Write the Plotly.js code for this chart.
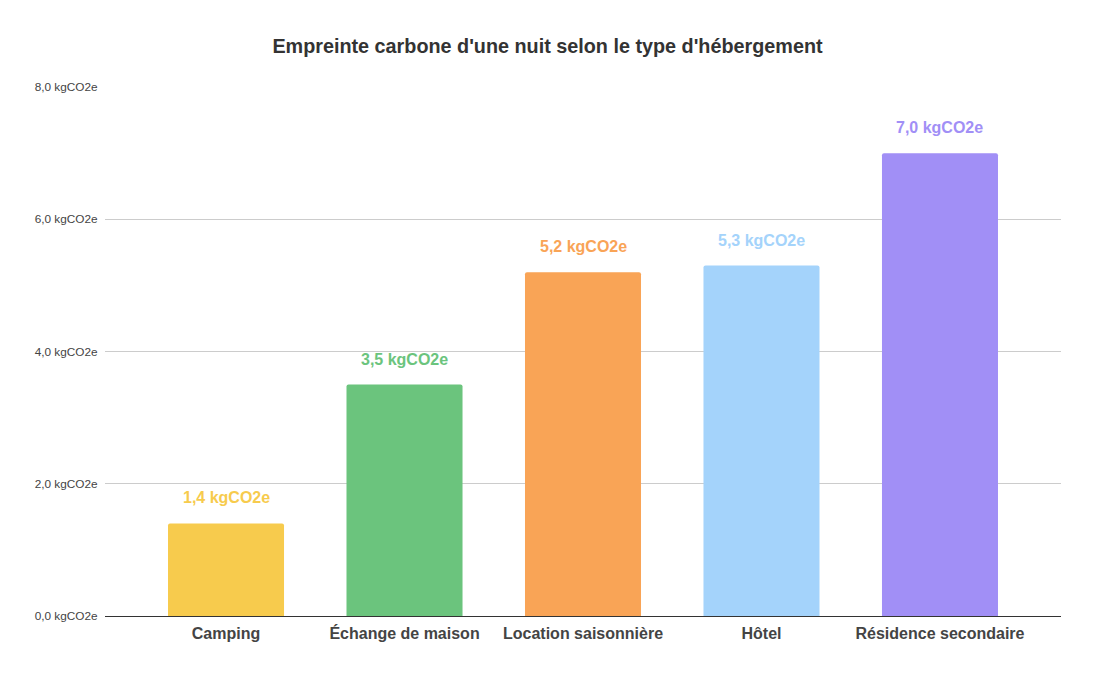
<!DOCTYPE html>
<html>
<head>
<meta charset="utf-8">
<script src="https://cdn.plot.ly/plotly-3.0.1.min.js"></script>
<style>html,body{margin:0;padding:0;background:#fff;}#chart{width:1095px;height:677px;}</style>
</head>
<body>
<div id="chart"></div>
<script>
const categories = ["Camping", "Échange de maison", "Location saisonnière", "Hôtel", "Résidence secondaire"];
const values = [1.4, 3.5, 5.2, 5.3, 7.0];
const valueLabels = ["1,4 kgCO2e", "3,5 kgCO2e", "5,2 kgCO2e", "5,3 kgCO2e", "7,0 kgCO2e"];
const colors = ["#F7CB4D", "#6BC47D", "#F9A456", "#A4D3FB", "#A18FF6"];
const yTickVals = [0, 2, 4, 6, 8];
const yTickText = ["0,0 kgCO2e", "2,0 kgCO2e", "4,0 kgCO2e", "6,0 kgCO2e", "8,0 kgCO2e"];
const titleText = "Empreinte carbone d'une nuit selon le type d'hébergement";

const FONT = "Liberation Sans, Arial, sans-serif";

const trace = {
  type: "bar",
  x: categories,
  y: values,
  width: 0.65,
  marker: {color: colors},
  hoverinfo: "none"
};

const annotations = categories.map((c, i) => ({
  x: c, y: values[i], xref: "x", yref: "y",
  text: "<b>" + valueLabels[i] + "</b>",
  showarrow: false, yanchor: "bottom", yshift: 15,
  font: {family: FONT, size: 16, color: colors[i]}
}));

const layout = {
  width: 1095, height: 677,
  margin: {l: 105, r: 34, t: 87, b: 61},
  paper_bgcolor: "#fff", plot_bgcolor: "#fff",
  barcornerradius: 2,
  showlegend: false,
  title: {
    text: "<b>" + titleText + "</b>",
    font: {family: FONT, size: 19.8, color: "#333333"},
    x: 0.5, xanchor: "center", xref: "container",
    y: 1 - 46/677, yanchor: "middle", yref: "container"
  },
  xaxis: {
    type: "category",
    range: [-0.678, 4.678],
    showgrid: false, zeroline: false,
    showline: true, linecolor: "#333333", linewidth: 1,
    ticks: "", ticklabelstandoff: 3,
    tickfont: {family: FONT, size: 16, color: "#444444", weight: "bold"}
  },
  yaxis: {
    range: [0, 8],
    tickvals: yTickVals, ticktext: yTickText,
    showgrid: true, gridcolor: "#cccccc", gridwidth: 1,
    zeroline: false, showline: false,
    ticks: "outside", ticklen: 4, tickcolor: "rgba(0,0,0,0)",
    tickfont: {family: FONT, size: 11.8, color: "#444444"}
  },
  annotations: annotations
};

Plotly.newPlot("chart", [trace], layout, {displayModeBar: false, staticPlot: true});
</script>
</body>
</html>
